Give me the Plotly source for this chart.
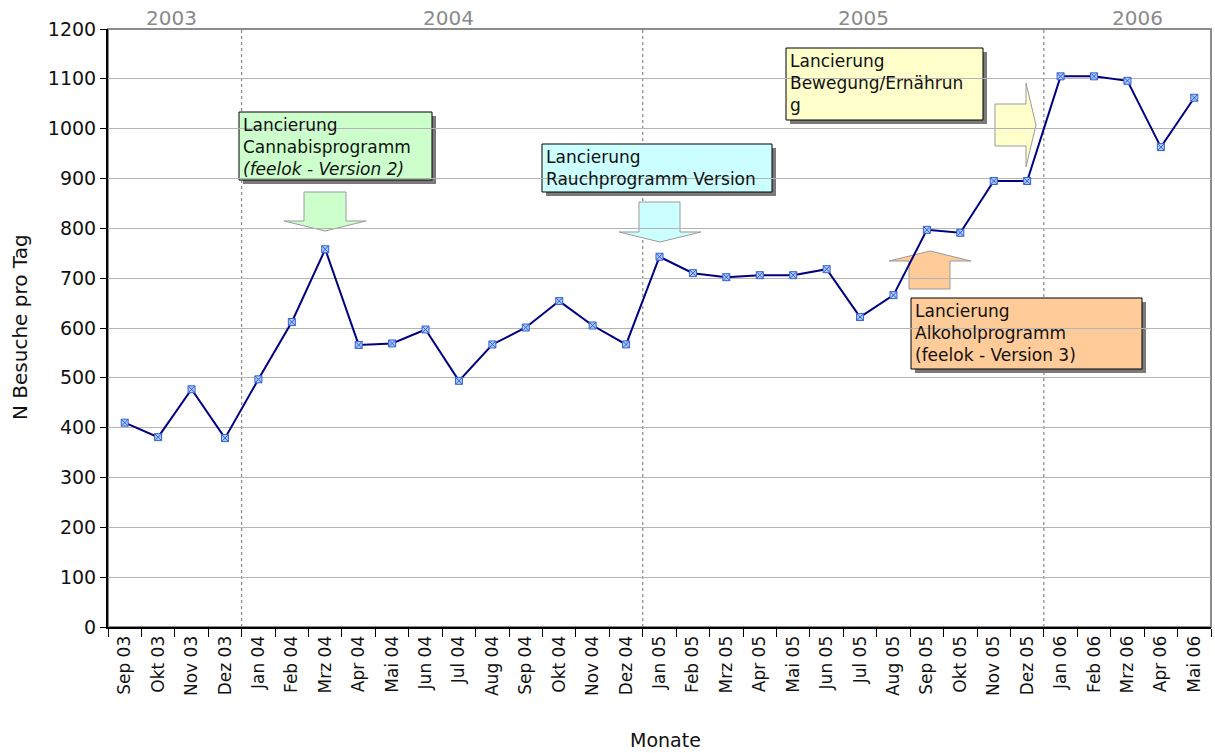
import plotly.graph_objects as go

months = ["Sep 03", "Okt 03", "Nov 03", "Dez 03",
          "Jan 04", "Feb 04", "Mrz 04", "Apr 04", "Mai 04", "Jun 04", "Jul 04", "Aug 04",
          "Sep 04", "Okt 04", "Nov 04", "Dez 04",
          "Jan 05", "Feb 05", "Mrz 05", "Apr 05", "Mai 05", "Jun 05", "Jul 05", "Aug 05",
          "Sep 05", "Okt 05", "Nov 05", "Dez 05",
          "Jan 06", "Feb 06", "Mrz 06", "Apr 06", "Mai 06"]
visits = [410, 381, 477, 379,
          497, 612, 758, 566, 569, 597, 494, 567,
          601, 654, 605, 567,
          743, 710, 702, 706, 706, 718, 622, 666,
          797, 791, 895, 895,
          1105, 1105, 1096, 963, 1062]
year_labels = ["2003", "2004", "2005", "2006"]
year_label_pos = [1.4, 9.7, 22.1, 30.3]
year_boundaries = [3.5, 15.5, 27.5]

FONT = "DejaVu Sans, Verdana, sans-serif"
W, H = 1215, 753
L, R, T, B = 108, 4, 29, 126
PW, PH = W - L - R, H - T - B


def px(x):
    return (x - L) / PW


def py(y):
    return (H - B - y) / PH


def poly(points):
    return "M " + " L ".join(f"{px(x):.5f},{py(y):.5f}" for x, y in points) + " Z"


fig = go.Figure()
fig.add_trace(go.Scatter(
    x=months, y=visits, mode="lines+markers",
    line=dict(color="#000080", width=2),
    marker=dict(symbol="square-x", size=7, color="#A6CBFF",
                line=dict(color="#3A5FD0", width=1)),
    showlegend=False, hoverinfo="x+y",
))

shapes = []
# plot frame (top/right grey)
shapes.append(dict(type="rect", xref="paper", yref="paper", x0=0, x1=1, y0=0, y1=1,
                   line=dict(color="#8C8C8C", width=2), layer="below"))
# year separators
for b in year_boundaries:
    shapes.append(dict(type="line", xref="x", yref="paper", x0=b, x1=b, y0=0, y1=1,
                       line=dict(color="#707070", width=1, dash="dot"), layer="between"))

boxes = [
    # (x0, y0, x1, y1, fill, text)
    (239, 112, 432, 180, "#CCFFCC",
     "Lancierung<br>Cannabisprogramm<br><i>(feelok - Version 2)</i>"),
    (542, 144, 772, 192, "#CCFFFF", "Lancierung<br>Rauchprogramm Version"),
    (786, 48, 983, 120, "#FFFFCC", "Lancierung<br>Bewegung/Ernährun<br>g"),
    (911, 298, 1142, 369, "#FFCC99", "Lancierung<br>Alkoholprogramm<br>(feelok - Version 3)"),
]
arrows = [
    ("#CCFFCC", [(304, 192), (346, 192), (346, 221), (366, 221), (325, 231), (284, 221), (304, 221)]),
    ("#CCFFFF", [(639, 202), (680, 202), (680, 232), (701, 232), (660, 242), (619, 232), (639, 232)]),
    ("#FFCC99", [(909, 289), (950, 289), (950, 261), (971, 261), (930, 251), (889, 261), (909, 261)]),
    ("#FFFFCC", [(995, 104), (1026, 104), (1026, 83), (1036, 125), (1026, 167), (1026, 146), (995, 146)]),
]
for fill, pts in arrows:
    shapes.append(dict(type="path", xref="paper", yref="paper", path=poly(pts),
                       fillcolor=fill, line=dict(color="#9A9A9A", width=1), layer="between"))

annotations = []
for x0, y0, x1, y1, fill, text in boxes:
    shapes.append(dict(type="rect", xref="paper", yref="paper",
                       x0=px(x0 + 4), x1=px(x1 + 4), y0=py(y1 + 4), y1=py(y0 + 4),
                       fillcolor="#7A7A7A", line=dict(width=0), layer="between"))
    shapes.append(dict(type="rect", xref="paper", yref="paper",
                       x0=px(x0), x1=px(x1), y0=py(y1), y1=py(y0),
                       fillcolor=fill, line=dict(color="#000000", width=1), layer="between"))
    annotations.append(dict(xref="paper", yref="paper", x=px(x0 + 2), y=py(y0 + 1),
                            xanchor="left", yanchor="top", align="left", showarrow=False,
                            text=text, font=dict(family=FONT, size=17, color="#111111")))

for lab, pos in zip(year_labels, year_label_pos):
    annotations.append(dict(xref="x", yref="paper", x=pos, y=py(18), text=lab,
                            showarrow=False, xanchor="center", yanchor="middle",
                            font=dict(family=FONT, size=20, color="#8A8A8A")))

annotations.append(dict(xref="paper", yref="paper", x=px(20), y=py(327), text="N Besuche pro Tag",
                        textangle=-90, showarrow=False, xanchor="center", yanchor="middle",
                        font=dict(family=FONT, size=20, color="#111111")))
annotations.append(dict(xref="paper", yref="paper", x=px(665), y=py(740), text="Monate",
                        showarrow=False, xanchor="center", yanchor="middle",
                        font=dict(family=FONT, size=19, color="#111111")))

fig.update_layout(
    width=W, height=H,
    margin=dict(l=L, r=R, t=T, b=B, autoexpand=False),
    paper_bgcolor="white", plot_bgcolor="white",
    font=dict(family=FONT, color="#111111"),
    shapes=shapes, annotations=annotations,
    xaxis=dict(type="category", range=[-0.5, len(months) - 0.5], tickangle=-90,
               tickson="boundaries", ticks="outside", ticklen=8, tickcolor="#000000",
               showline=True, linecolor="#000000", linewidth=2, showgrid=False,
               tickfont=dict(family=FONT, size=17, color="#111111"), fixedrange=True),
    yaxis=dict(range=[0, 1200], dtick=100, ticks="outside", ticklen=6, tickcolor="#000000",
               showline=True, linecolor="#000000", linewidth=2, showgrid=True,
               gridcolor="#B4B4B4", gridwidth=1, zeroline=False,
               tickfont=dict(family=FONT, size=19, color="#111111"), fixedrange=True),
)

fig.write_html("out.html", config={"displayModeBar": False},
               post_script="document.body.style.margin='0';document.body.style.overflow='hidden';")
